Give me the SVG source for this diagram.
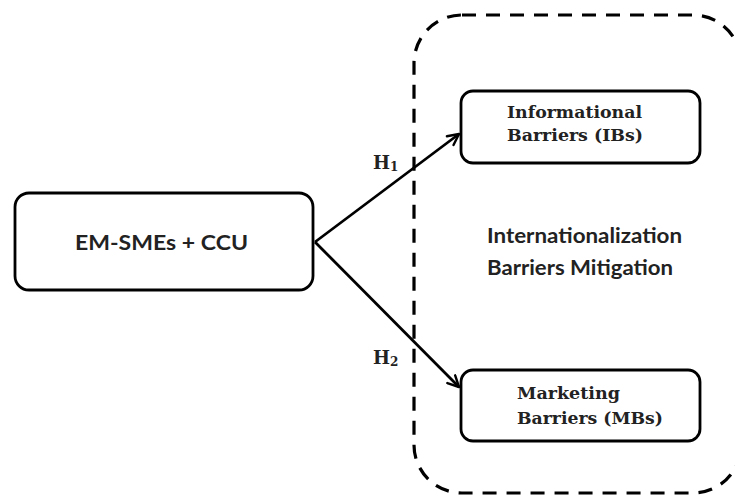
<svg xmlns="http://www.w3.org/2000/svg" width="735" height="497" viewBox="0 0 735 497">
<style>
.box{fill:#fff;stroke:#000;stroke-width:2.8}
.sans{font-family:Lato,"Liberation Sans",sans-serif;font-weight:bold;fill:#222}
.serif{font-family:"DejaVu Serif","Liberation Serif",serif;font-weight:bold;fill:#222}
.conn{stroke:#000;stroke-width:2.8;fill:none}
.dash{fill:none;stroke:#000;stroke-width:3.2;stroke-dasharray:14 10}
</style>
<defs>
<marker id="arr" viewBox="0 0 14 14" refX="12.5" refY="7" markerWidth="14" markerHeight="14" markerUnits="userSpaceOnUse" orient="auto">
<path d="M1.5,1.5 L12.5,7 L1.5,12.5" fill="none" stroke="#000" stroke-width="2.4" stroke-linecap="round" stroke-linejoin="round"/>
</marker>
</defs>
<rect width="735" height="497" fill="#fff"/>
<g id="container">
<rect class="dash" x="414" y="15" width="327" height="478" rx="48" ry="48"/>
<text class="sans" x="487" y="243" font-size="20" textLength="195" lengthAdjust="spacingAndGlyphs">Internationalization</text>
<text class="sans" x="487" y="275" font-size="20" textLength="186" lengthAdjust="spacingAndGlyphs">Barriers Mitigation</text>
</g>
<g id="connectors">
<line class="conn" x1="315" y1="242" x2="459" y2="134" marker-end="url(#arr)"/>
<line class="conn" x1="315" y1="242" x2="459" y2="387" marker-end="url(#arr)"/>
<text class="serif" x="373" y="169" font-size="18">H<tspan font-size="12" dy="2">1</tspan></text>
<text class="serif" x="373" y="364" font-size="18">H<tspan font-size="12" dy="2">2</tspan></text>
</g>
<g id="em-smes">
<rect class="box" x="15" y="193" width="298" height="97" rx="14" ry="14"/>
<text class="sans" x="75" y="250" font-size="20" textLength="173" lengthAdjust="spacingAndGlyphs">EM-SMEs + CCU</text>
</g>
<g id="informational">
<rect class="box" x="461" y="91" width="239" height="72" rx="12" ry="12"/>
<text class="serif" x="507" y="118" font-size="16" textLength="135" lengthAdjust="spacingAndGlyphs">Informational</text>
<text class="serif" x="507" y="141" font-size="16" textLength="136" lengthAdjust="spacingAndGlyphs">Barriers (IBs)</text>
</g>
<g id="marketing">
<rect class="box" x="461" y="370" width="239" height="71" rx="12" ry="12"/>
<text class="serif" x="517" y="399" font-size="16" textLength="103" lengthAdjust="spacingAndGlyphs">Marketing</text>
<text class="serif" x="517" y="424" font-size="16" textLength="146" lengthAdjust="spacingAndGlyphs">Barriers (MBs)</text>
</g>
</svg>
